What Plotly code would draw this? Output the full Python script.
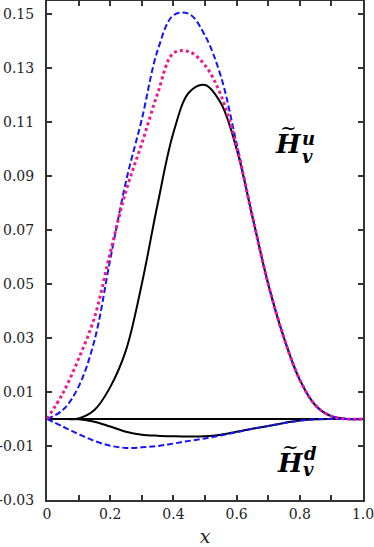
import plotly.graph_objects as go

# x grid shared by all curves
x = [0.0, 0.05, 0.1, 0.15, 0.2, 0.25, 0.3, 0.35, 0.4, 0.45, 0.5,
     0.55, 0.6, 0.65, 0.7, 0.75, 0.8, 0.85, 0.9, 0.95, 1.0]

# up-quark curves
hu_solid = [0.0, 0.0, 0.0002, 0.0033, 0.0118, 0.0255, 0.050, 0.0795, 0.106, 0.121, 0.1237,
            0.117, 0.100, 0.075, 0.050, 0.030, 0.0145, 0.005, 0.001, 0.0, 0.0]
hu_dashed = [0.0, 0.0033, 0.012, 0.029, 0.059, 0.088, 0.111, 0.1365, 0.1495, 0.150, 0.142,
             0.127, 0.102, 0.075, 0.050, 0.030, 0.0145, 0.005, 0.001, 0.0, 0.0]
hu_dotted = [0.0, 0.0095, 0.0223, 0.0375, 0.0615, 0.0845, 0.102, 0.1205, 0.1355, 0.136, 0.131,
             0.120, 0.101, 0.075, 0.050, 0.030, 0.0145, 0.005, 0.001, 0.0, 0.0]

# down-quark curves
hd_solid = [0.0, 0.0, -0.0001, -0.001, -0.0028, -0.0047, -0.0058, -0.0062, -0.0064, -0.0065, -0.0064,
            -0.0058, -0.0047, -0.0036, -0.0026, -0.0015, -0.0006, -0.0001, 0.0, 0.0, 0.0]
hd_dashed = [0.0, -0.0028, -0.0056, -0.0081, -0.0099, -0.0107, -0.0105, -0.0100, -0.0091, -0.0081, -0.0072,
             -0.0061, -0.0049, -0.0036, -0.0026, -0.0015, -0.0006, -0.0001, 0.0, 0.0, 0.0]

x_ticks = [0.0, 0.1, 0.2, 0.3, 0.4, 0.5, 0.6, 0.7, 0.8, 0.9, 1.0]
x_labels = ["0", "", "0.2", "", "0.4", "", "0.6", "", "0.8", "", "1.0"]
y_ticks = [0.15, 0.13, 0.11, 0.09, 0.07, 0.05, 0.03, 0.01, -0.01, -0.03]
y_labels = ["0.15", "0.13", "0.11", "0.09", "0.07", "0.05", "0.03", "0.01", "-0.01", "-0.03"]

BLUE = "#1414ff"
PINK = "#f5168c"
FONT = "DejaVu Serif"

fig = go.Figure()

fig.add_trace(go.Scatter(x=x, y=hu_solid, mode="lines", line_shape="spline",
                         line={"color": "black", "width": 2}))
fig.add_trace(go.Scatter(x=x, y=hd_solid, mode="lines", line_shape="spline",
                         line={"color": "black", "width": 2}))
fig.add_trace(go.Scatter(x=x, y=hu_dashed, mode="lines", line_shape="spline",
                         line={"color": BLUE, "width": 2, "dash": "6px,3px"}))
fig.add_trace(go.Scatter(x=x, y=hd_dashed, mode="lines", line_shape="spline",
                         line={"color": BLUE, "width": 2, "dash": "6px,3px"}))
fig.add_trace(go.Scatter(x=x, y=hu_dotted, mode="lines", line_shape="spline",
                         line={"color": PINK, "width": 3, "dash": "3px,3px"}))

# H~_v^u and H~_v^d labels
def add_label(xh, yh, sup, ysup, ysub, ytilde):
    fig.add_annotation(x=xh, y=yh, text="<b><i>H</i></b>", showarrow=False,
                       font={"family": FONT, "size": 26, "color": "black"})
    fig.add_annotation(x=xh, y=ytilde, text="~", showarrow=False,
                       font={"family": FONT, "size": 20, "color": "black"})
    fig.add_annotation(x=xh + 0.064, y=ysup, text="<b><i>%s</i></b>" % sup, showarrow=False,
                       font={"family": FONT, "size": 18, "color": "black"})
    fig.add_annotation(x=xh + 0.060, y=ysub, text="<b><i>v</i></b>", showarrow=False,
                       font={"family": FONT, "size": 18, "color": "black"})

add_label(0.763, 0.1019, "u", 0.1040, 0.0972, 0.1078)
add_label(0.769, -0.0163, "d", -0.0128, -0.0187, -0.0105)

axis_common = dict(showgrid=False, showline=True, linecolor="#333333", linewidth=2,
                   mirror="ticks", ticks="inside", ticklen=5, tickwidth=1.5, automargin=False,
                   ticklabeloverflow="allow",
                   tickcolor="#333333", tickfont={"family": FONT, "size": 14, "color": "#222222"})

fig.update_xaxes(range=[0, 1], tickmode="array", tickvals=x_ticks, ticktext=x_labels,
                 zeroline=False, title={"text": "<i>x</i>", "standoff": 9,
                                        "font": {"family": FONT, "size": 19, "color": "#222222"}},
                 **axis_common)
fig.update_yaxes(range=[-0.03, 0.1548], tickmode="array", tickvals=y_ticks, ticktext=y_labels,
                 zeroline=True, zerolinecolor="black", zerolinewidth=2,
                 ticklabelstandoff=8, **axis_common)

fig.update_layout(width=374, height=547, showlegend=False,
                  font={"family": FONT, "color": "#222222"},
                  margin={"l": 47, "r": 11, "t": 1, "b": 47},
                  plot_bgcolor="white", paper_bgcolor="white")

# the page's default body margin would shift the figure by 8px
fig.write_html("out.html", config={"displayModeBar": False},
               post_script="document.body.style.margin = '0';")
